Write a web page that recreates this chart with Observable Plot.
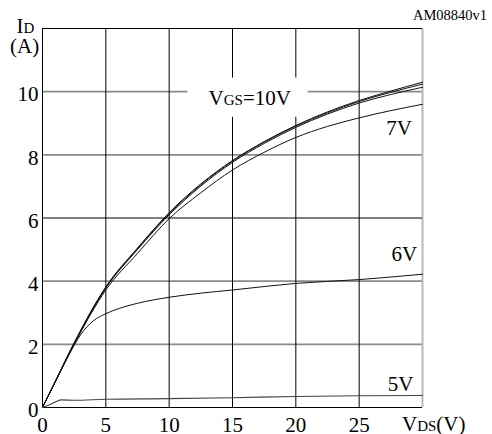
<!DOCTYPE html>
<html><head><meta charset="utf-8">
<script src="https://cdn.jsdelivr.net/npm/d3@7"></script>
<script src="https://cdn.jsdelivr.net/npm/@observablehq/plot@0.6"></script>
<style>body{margin:0;background:#fff}</style>
</head><body><div id="chart"></div>
<script>
// ---- data ----
const vdsMain = [0, 1, 2.5, 5, 7.5, 10, 12.5, 15, 17.5, 20, 22.5, 25, 27.5, 30];
const id10 = [0, 0.82, 2.05, 3.82, 5.05, 6.17, 7.08, 7.82, 8.42, 8.93, 9.36, 9.72, 10.02, 10.3];
const id9  = [0, 0.82, 2.04, 3.80, 5.03, 6.14, 7.05, 7.80, 8.40, 8.91, 9.33, 9.69, 9.98, 10.24];
const id8  = [0, 0.81, 2.02, 3.78, 5.00, 6.10, 7.01, 7.76, 8.36, 8.87, 9.29, 9.64, 9.91, 10.14];
const id7  = [0, 0.80, 2.00, 3.72, 4.88, 5.98, 6.80, 7.52, 8.08, 8.55, 8.90, 9.17, 9.40, 9.60];
const vds6 = [0, 1, 2, 2.5, 3, 3.5, 4, 5, 6, 7.5, 10, 12.5, 15, 20, 25, 30];
const id6  = [0, 0.8, 1.6, 1.97, 2.3, 2.55, 2.74, 2.97, 3.13, 3.3, 3.49, 3.62, 3.72, 3.93, 4.05, 4.22];
const vds5 = [0, 0.5, 1, 1.5, 2.5, 5, 10, 15, 20, 25, 30];
const id5  = [0, 0.08, 0.17, 0.24, 0.23, 0.26, 0.28, 0.31, 0.35, 0.37, 0.38];

const xTicks = [0, 5, 10, 15, 20, 25];
const yTicks = [0, 2, 4, 6, 8, 10];
const grayGridY = [2, 4, 8, 10];
const blackGridY = [0, 6, 12];
const blackGridX = [0, 5, 10, 15, 20, 25];
const rightEdgeX = [30];

// curve labels: [normal, subscript, normal] pieces
const labelParts = [["V", "GS", "=10V"], ["7V"], ["6V"], ["5V"]];
const labelX = [16.4, 28.2, 28.6, 28.3];
const labelY = [9.8, 8.86, 4.84, 0.74];
const boxX = [11.47, 20.97];
const boxY = [9.19, 10.43];

// ---- build tables ----
function series(name, xs, ys) { return xs.map((x, i) => ({vgs: name, vds: x, id: ys[i]})); }
const curves = [
  ...series("10V", vdsMain, id10),
  ...series("9V", vdsMain, id9),
  ...series("8V", vdsMain, id8),
  ...series("7V", vdsMain, id7),
  ...series("6V", vds6, id6)
];
const curve5 = series("5V", vds5, id5);

const FONT = "'Liberation Serif', 'Times New Roman', serif";

const plot = Plot.plot({
  width: 492, height: 434,
  marginLeft: 42, marginRight: 70, marginTop: 28, marginBottom: 27,
  x: {domain: [0, 30]},
  y: {domain: [0, 12]},
  style: {fontFamily: FONT, fontSize: "21px", color: "#000", background: "#fff", overflow: "visible"},
  marks: [
    Plot.ruleY(grayGridY, {stroke: "#8a8a8a", strokeWidth: 1.6}),
    Plot.ruleX(rightEdgeX, {stroke: "#b8b8b8", strokeWidth: 2}),
    Plot.ruleX(blackGridX, {stroke: "#000", strokeWidth: 1}),
    Plot.ruleY(blackGridY, {stroke: "#000", strokeWidth: 1}),
    Plot.rect([0], {x1: () => boxX[0], x2: () => boxX[1], y1: () => boxY[0], y2: () => boxY[1], fill: "#fff"}),
    Plot.line(curves, {x: "vds", y: "id", z: "vgs", stroke: "#111", strokeWidth: 1, curve: "monotone-x"}),
    Plot.line(curve5, {x: "vds", y: "id", stroke: "#444", strokeWidth: 1.1, curve: "monotone-x"}),
    Plot.axisX({ticks: xTicks, tickSize: 0, tickPadding: 10, fontSize: 21, label: null}),
    Plot.axisY({ticks: yTicks, tickSize: 0, tickPadding: 4, fontSize: 21, dy: 3, label: null})
  ]
});

document.getElementById("chart").appendChild(plot);

const svg = d3.select(plot);
const sx = plot.scale("x"), sy = plot.scale("y");

function richText(x, y, parts, big, small, anchor, dy) {
  const t = svg.append("text")
    .attr("x", x).attr("y", y)
    .attr("font-family", FONT).attr("font-size", big)
    .attr("fill", "#000").attr("text-anchor", anchor || "start");
  if (dy) t.attr("dy", dy);
  parts.forEach((p, i) => {
    t.append("tspan").attr("font-size", i % 2 === 1 ? small : big).text(p);
  });
  return t;
}

// in-plot curve labels through the scales
labelParts.forEach((parts, i) => {
  richText(sx.apply(labelX[i]), sy.apply(labelY[i]), parts, 21, 15, "middle", "0.35em");
});

// axis titles and code
richText(16.5, 33, ["I", "D"], 21, 15);
richText(10, 53, ["(A)"], 21, 15);
richText(402, 431, ["V", "DS", "(V)"], 21, 15);
richText(413, 20, ["AM08840v1"], 14.5, 14.5);
</script></body></html>
